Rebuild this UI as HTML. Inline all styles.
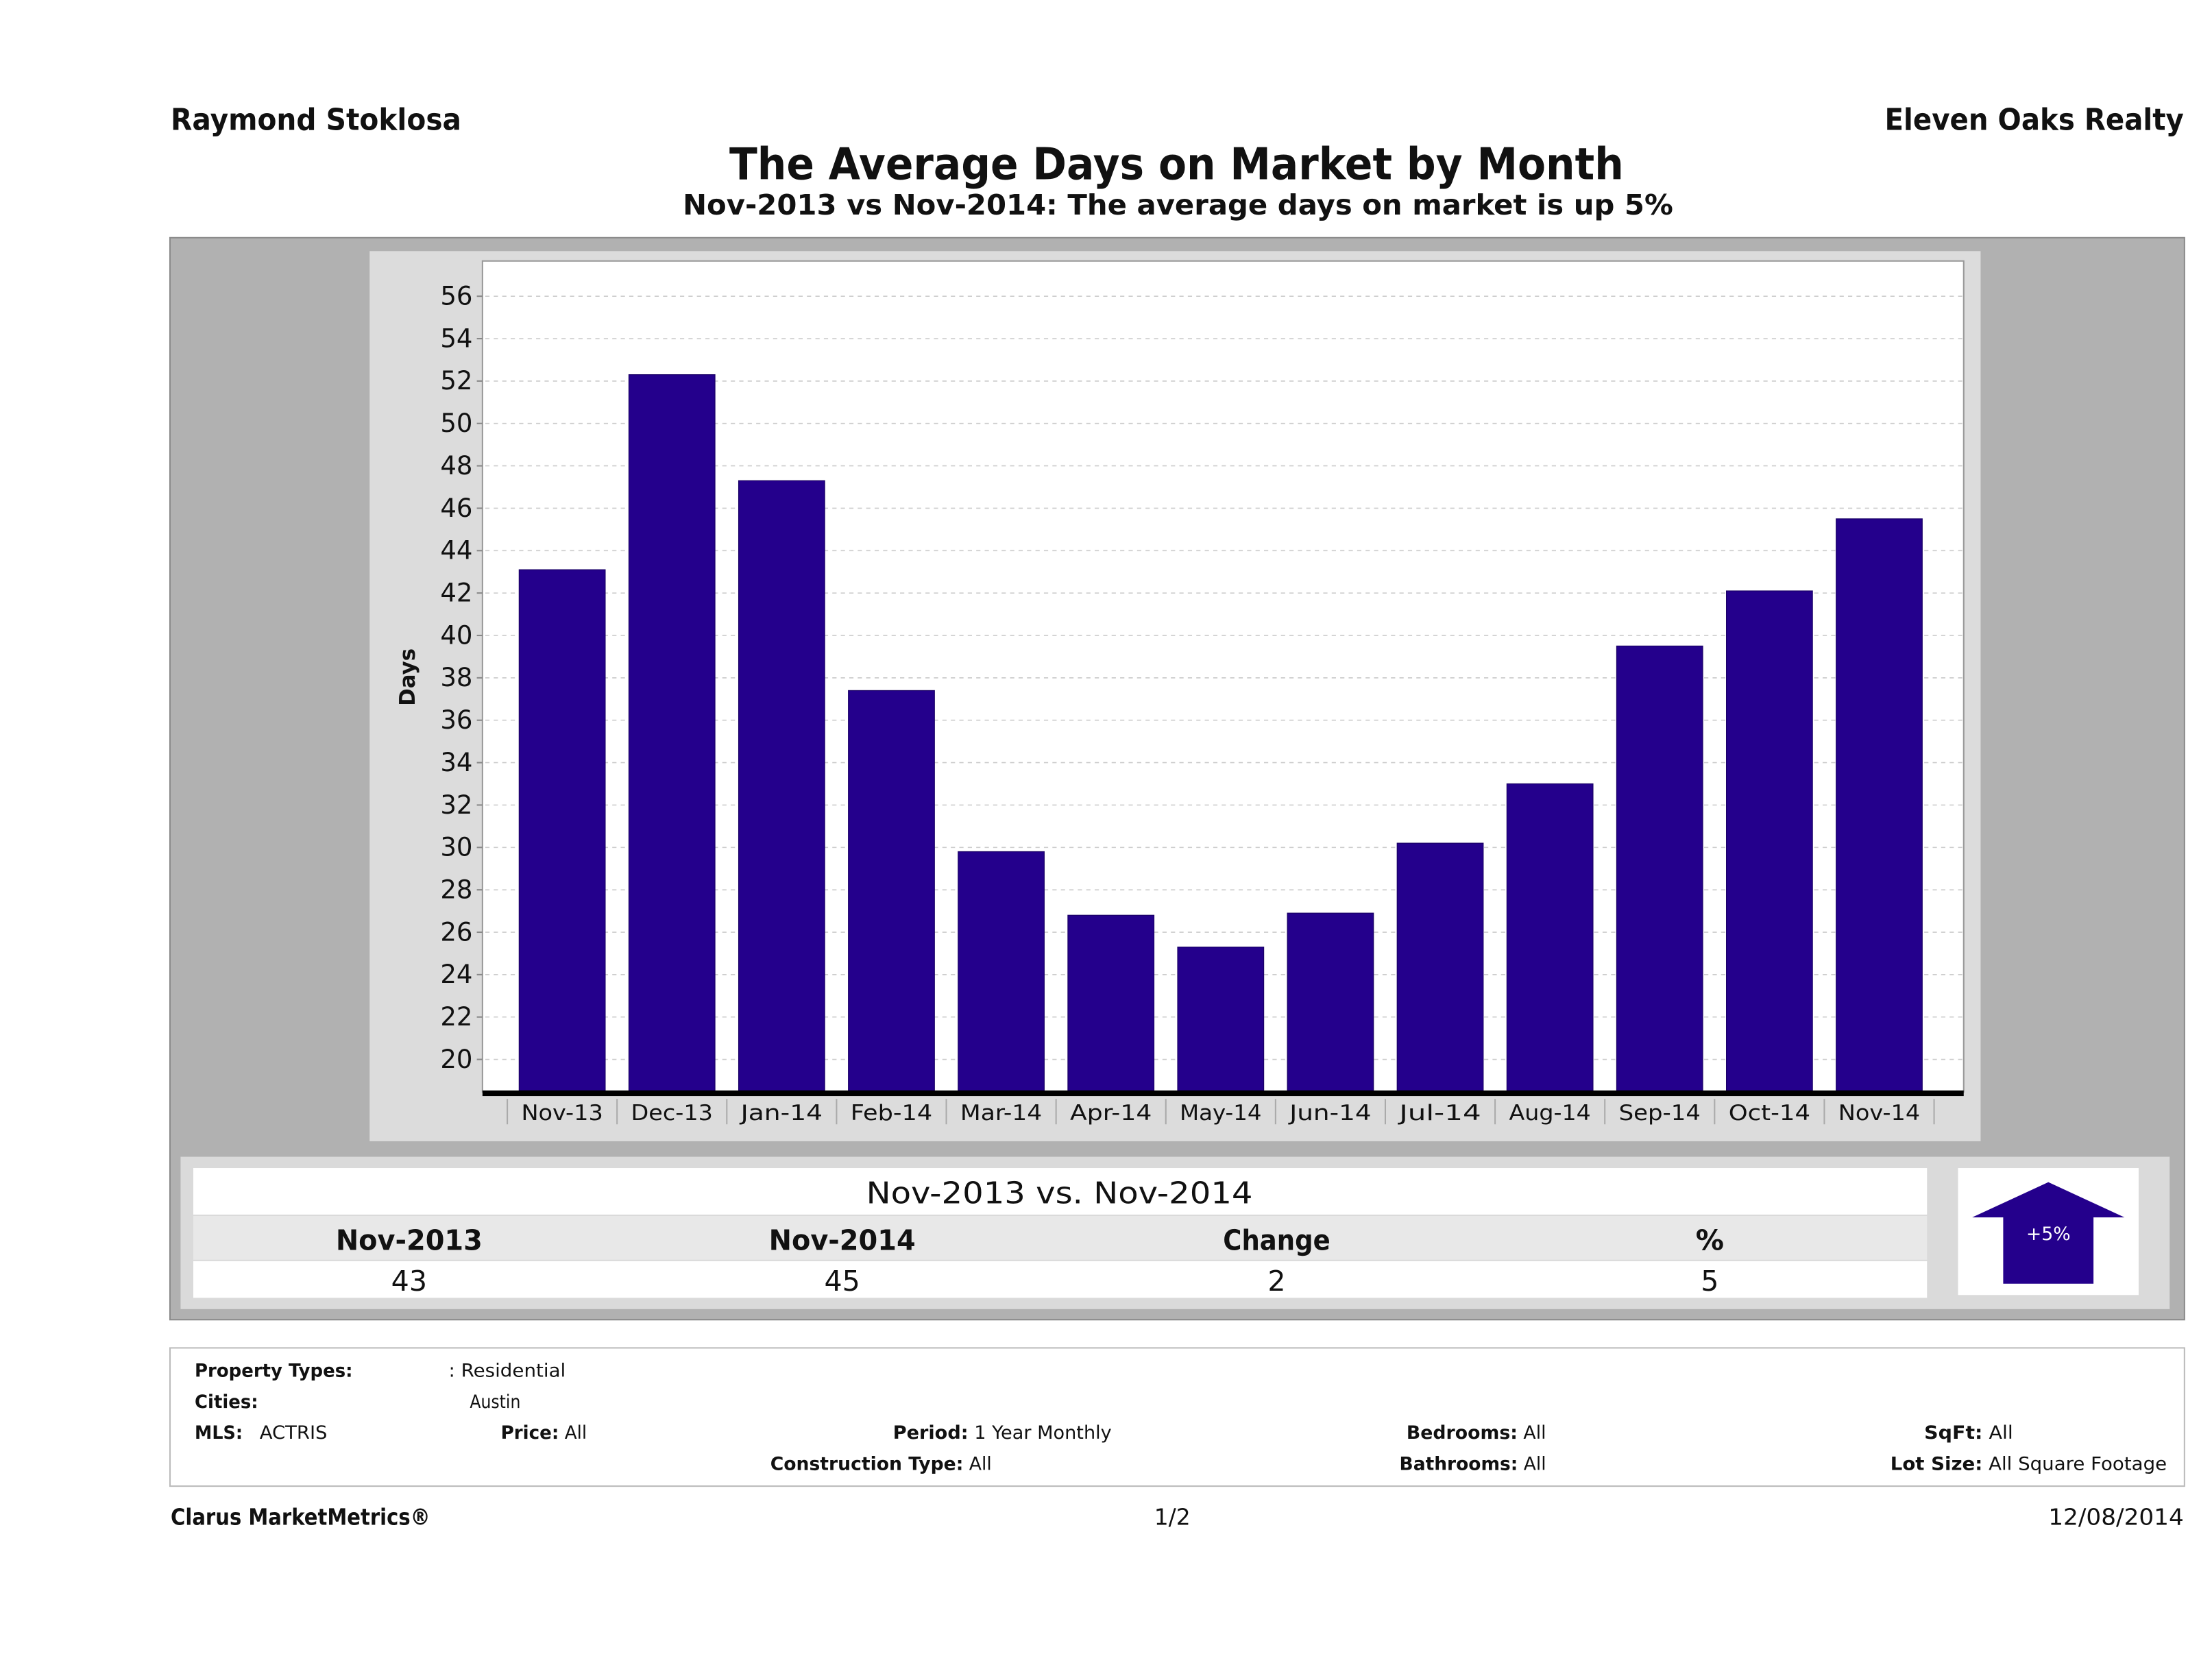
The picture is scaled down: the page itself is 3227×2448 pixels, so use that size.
<!DOCTYPE html>
<html><head><meta charset="utf-8"><style>
html,body{margin:0;padding:0;background:#fff;width:3227px;height:2448px;overflow:hidden}
svg{display:block}
text{font-family:"DejaVu Sans","Liberation Sans",sans-serif;fill:#111}
</style></head><body>
<svg id="root" width="3227" height="2448" viewBox="0 0 1568 1189.5" xmlns="http://www.w3.org/2000/svg">
<text x="121" y="92" font-size="21" font-weight="bold" textLength="206" lengthAdjust="spacingAndGlyphs">Raymond Stoklosa</text>
<text x="1548" y="92" font-size="21" font-weight="bold" text-anchor="end" textLength="212" lengthAdjust="spacingAndGlyphs">Eleven Oaks Realty</text>
<text x="834" y="127" font-size="31" font-weight="bold" text-anchor="middle" textLength="634" lengthAdjust="spacingAndGlyphs">The Average Days on Market by Month</text>
<text x="835" y="152" font-size="20" font-weight="bold" text-anchor="middle" textLength="702" lengthAdjust="spacingAndGlyphs">Nov-2013 vs Nov-2014: The average days on market is up 5%</text>

<rect x="120.5" y="168.5" width="1428" height="767" fill="#b1b1b1" stroke="#8a8a8a"/>
<rect x="262" y="178" width="1142" height="631" fill="#dcdcdc"/>
<rect x="342" y="185" width="1050" height="589" fill="#fff" stroke="#999" stroke-width="1"/>
<g id="chart"></g>
<text transform="translate(294,480) rotate(-90)" font-size="15" font-weight="bold" text-anchor="middle">Days</text>

<rect x="128" y="820" width="1410" height="108" fill="#dadada"/>
<rect x="137" y="828" width="1229" height="33" fill="#fff"/>
<rect x="137" y="862" width="1229" height="31" fill="#e8e8e8"/>
<rect x="137" y="894" width="1229" height="26" fill="#fff"/>
<text x="751" y="853" font-size="21" text-anchor="middle" textLength="274" lengthAdjust="spacingAndGlyphs">Nov-2013 vs. Nov-2014</text>
<text x="290" y="886" font-size="20" font-weight="bold" text-anchor="middle" textLength="104" lengthAdjust="spacingAndGlyphs">Nov-2013</text>
<text x="597" y="886" font-size="20" font-weight="bold" text-anchor="middle" textLength="104" lengthAdjust="spacingAndGlyphs">Nov-2014</text>
<text x="905" y="886" font-size="20" font-weight="bold" text-anchor="middle" textLength="76" lengthAdjust="spacingAndGlyphs">Change</text>
<text x="1212" y="886" font-size="20" font-weight="bold" text-anchor="middle">%</text>
<text x="290" y="915" font-size="20" text-anchor="middle">43</text>
<text x="597" y="915" font-size="20" text-anchor="middle">45</text>
<text x="905" y="915" font-size="20" text-anchor="middle">2</text>
<text x="1212" y="915" font-size="20" text-anchor="middle">5</text>
<rect x="1388" y="828" width="128" height="90" fill="#fff"/>
<polygon points="1452,838 1506,863 1484,863 1484,910 1420,910 1420,863 1398,863" fill="#24008c"/>
<text x="1452" y="879" font-size="13" fill="#fff" text-anchor="middle" style="fill:#fff">+5%</text>

<rect x="120.5" y="955.5" width="1428" height="98" fill="#fff" stroke="#bbb"/>
<g font-size="13">
<text x="138" y="976" font-weight="bold" font-size="13" textLength="112" lengthAdjust="spacingAndGlyphs">Property Types:</text>
<text x="318" y="976" font-size="13" textLength="83" lengthAdjust="spacingAndGlyphs">: Residential</text>
<text x="138" y="998" font-weight="bold" font-size="13" textLength="45" lengthAdjust="spacingAndGlyphs">Cities:</text>
<text x="333" y="998" font-size="13" textLength="36" lengthAdjust="spacingAndGlyphs">Austin</text>
<text x="138" y="1020" font-weight="bold" font-size="13" textLength="34" lengthAdjust="spacingAndGlyphs">MLS:</text>
<text x="184" y="1020" font-size="13" textLength="48" lengthAdjust="spacingAndGlyphs">ACTRIS</text>
<text x="355" y="1020" font-size="13" textLength="61" lengthAdjust="spacingAndGlyphs"><tspan font-weight="bold">Price:</tspan> All</text>
<text x="633" y="1020" font-size="13" textLength="155" lengthAdjust="spacingAndGlyphs"><tspan font-weight="bold">Period:</tspan> 1 Year Monthly</text>
<text x="546" y="1042" font-size="13" textLength="157" lengthAdjust="spacingAndGlyphs"><tspan font-weight="bold">Construction Type:</tspan> All</text>
<text x="997" y="1020" font-size="13" textLength="99" lengthAdjust="spacingAndGlyphs"><tspan font-weight="bold">Bedrooms:</tspan> All</text>
<text x="992" y="1042" font-size="13" textLength="104" lengthAdjust="spacingAndGlyphs"><tspan font-weight="bold">Bathrooms:</tspan> All</text>
<text x="1364" y="1020" font-size="13" textLength="63" lengthAdjust="spacingAndGlyphs"><tspan font-weight="bold">SqFt:</tspan> All</text>
<text x="1340" y="1042" font-size="13" textLength="196" lengthAdjust="spacingAndGlyphs"><tspan font-weight="bold">Lot Size:</tspan> All Square Footage</text>
</g>
<text x="121" y="1081" font-size="16" font-weight="bold" textLength="184" lengthAdjust="spacingAndGlyphs">Clarus MarketMetrics®</text>
<text x="831" y="1081" font-size="16" text-anchor="middle">1/2</text>
<text x="1548" y="1081" font-size="16" text-anchor="end" textLength="96" lengthAdjust="spacingAndGlyphs">12/08/2014</text>
</svg>
<script>
const categories = ["Nov-13","Dec-13","Jan-14","Feb-14","Mar-14","Apr-14","May-14","Jun-14","Jul-14","Aug-14","Sep-14","Oct-14","Nov-14"];
const values = [43.1,52.3,47.3,37.4,29.8,26.8,25.3,26.9,30.2,33.0,39.5,42.1,45.5];
const yTicks = [20,22,24,26,28,30,32,34,36,38,40,42,44,46,48,50,52,54,56];
const NS = "http://www.w3.org/2000/svg";
const g = document.getElementById("chart");
const plotL = 342, plotR = 1392, baseY = 773;
function yScale(v){ return 751 - (v - 20) * (541 / 36); }
const step = 77.8, firstC = 398.5, barW = 61;
function xCenter(i){ return firstC + i * step; }
function mk(tag, attrs){ const e = document.createElementNS(NS, tag); for (const k in attrs) e.setAttribute(k, attrs[k]); g.appendChild(e); return e; }
yTicks.forEach(t => {
  const y = yScale(t);
  const gl = mk("line", {x1: plotL+2, x2: plotR, y1: y, y2: y, stroke: "#ccc", "stroke-dasharray": "3,3", "stroke-width": 0.8});
  
  
  const tk = mk("line", {x1: plotL-4, x2: plotL, y1: y, y2: y, stroke: "#888"});
  
  
  const tl = mk("text", {x: plotL-7, y: y+6, "font-size": 18, "text-anchor": "end", fill: "#222"});
  tl.textContent = t;
  
  
});
values.forEach((v, i) => {
  const y = yScale(v);
  const b = mk("rect", {x: xCenter(i) - barW/2, y: y, width: barW, height: baseY - y, fill: "#24008c", stroke: "#1a0066", "stroke-width": 0.6});
  
  
});
const ax = mk("rect", {x: plotL, y: baseY, width: plotR - plotL, height: 4, fill: "#000"});


categories.forEach((c, i) => {
  const sx = xCenter(i) - step/2;
  const s = mk("line", {x1: sx, x2: sx, y1: 779, y2: 797, stroke: "#aaa"});
  
  
  const t = mk("text", {x: xCenter(i), y: 794, "font-size": 15, "text-anchor": "middle", fill: "#222", textLength: 58, lengthAdjust: "spacingAndGlyphs"});
  t.textContent = c;
  
  
});
const last = mk("line", {x1: xCenter(categories.length-1)+step/2, x2: xCenter(categories.length-1)+step/2, y1: 779, y2: 797, stroke: "#aaa"});


</script>
</body></html>
